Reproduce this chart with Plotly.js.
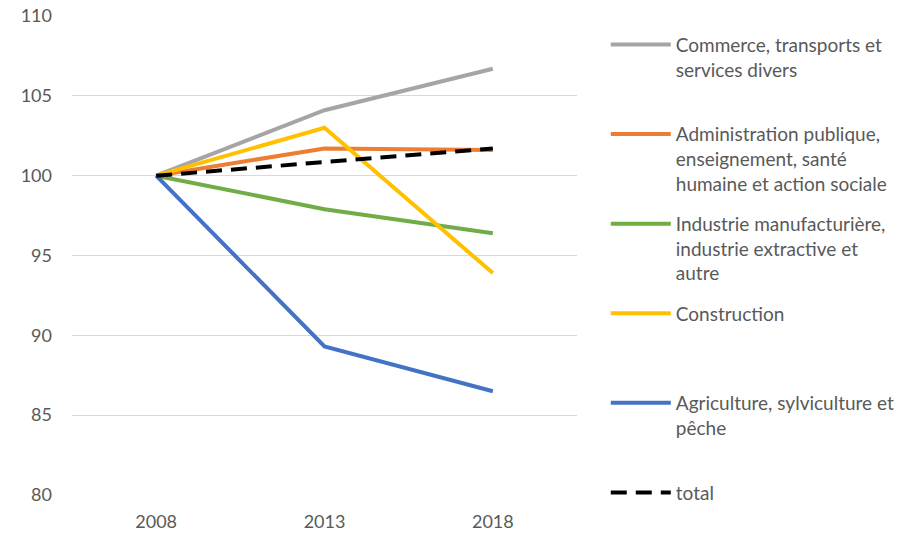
<!DOCTYPE html>
<html>
<head>
<meta charset="utf-8">
<script src="https://cdn.plot.ly/plotly-3.0.1.min.js"></script>
<style>html,body{margin:0;padding:0;background:#fff;}#chart{width:920px;height:533px;}</style>
</head>
<body>
<div id="chart"></div>
<script>
const years = ['2008', '2013', '2018'];
const seriesNames = [
  'Commerce, transports et<br>services divers',
  'Administration publique,<br>enseignement, santé<br>humaine et action sociale',
  'Industrie manufacturière,<br>industrie extractive et<br>autre',
  'Construction',
  'Agriculture, sylviculture et<br>pêche',
  'total'
];
const commerce = [100, 104.1, 106.7];
const administration = [100, 101.7, 101.6];
const industrie = [100, 97.9, 96.4];
const construction = [100, 103.0, 93.9];
const agriculture = [100, 89.3, 86.5];
const total = [100, 100.85, 101.7];
const seriesValues = [commerce, administration, industrie, construction, agriculture, total];
const colors = ['#A5A5A5', '#ED7D31', '#70AD47', '#FFC000', '#4472C4', '#000000'];
const dashes = ['solid', 'solid', 'solid', 'solid', 'solid', '16px,9px'];
const yTicks = [80, 85, 90, 95, 100, 105, 110];

function padLines(label, n) {
  const cnt = label.split('<br>').length;
  let out = label;
  for (let i = cnt; i < n; i++) out += '<br>\u00a0';
  return out;
}

const traces = seriesValues.map((vals, i) => ({
  type: 'scatter',
  mode: 'lines',
  x: years,
  y: vals,
  name: padLines(seriesNames[i], 3),
  legendgroup: 'g' + i,
  line: {color: colors[i], width: 4, dash: dashes[i]},
  hoverinfo: 'x+y'
}));

const layout = {
  width: 920, height: 533,
  margin: {l: 72, r: 343, t: 16, b: 38},
  paper_bgcolor: '#ffffff',
  plot_bgcolor: '#ffffff',
  font: {family: 'Lato, "Open Sans", sans-serif', color: '#595959', size: 17},
  showlegend: true,
  legend: {
    x: 1.057, xanchor: 'left',
    y: 0.98, yanchor: 'top',
    valign: 'top',
    traceorder: 'grouped',
    tracegroupgap: 12.5,
    font: {size: 19, color: '#595959'},
    itemwidth: 60,
    bgcolor: 'rgba(0,0,0,0)'
  },
  xaxis: {
    type: 'category',
    range: [-0.5, 2.5],
    showgrid: false,
    zeroline: false,
    showline: false,
    ticks: '',
    ticklabelstandoff: 14,
    tickfont: {size: 18, color: '#595959'},
    fixedrange: true
  },
  yaxis: {
    range: [80, 110],
    tickvals: yTicks,
    showgrid: true,
    gridcolor: '#D9D9D9',
    gridwidth: 1,
    zeroline: false,
    showline: false,
    ticks: '',
    ticklabelstandoff: 19,
    tickfont: {size: 18, color: '#595959'},
    fixedrange: true
  }
};

Plotly.newPlot('chart', traces, layout, {displayModeBar: false, staticPlot: true});
</script>
</body>
</html>
